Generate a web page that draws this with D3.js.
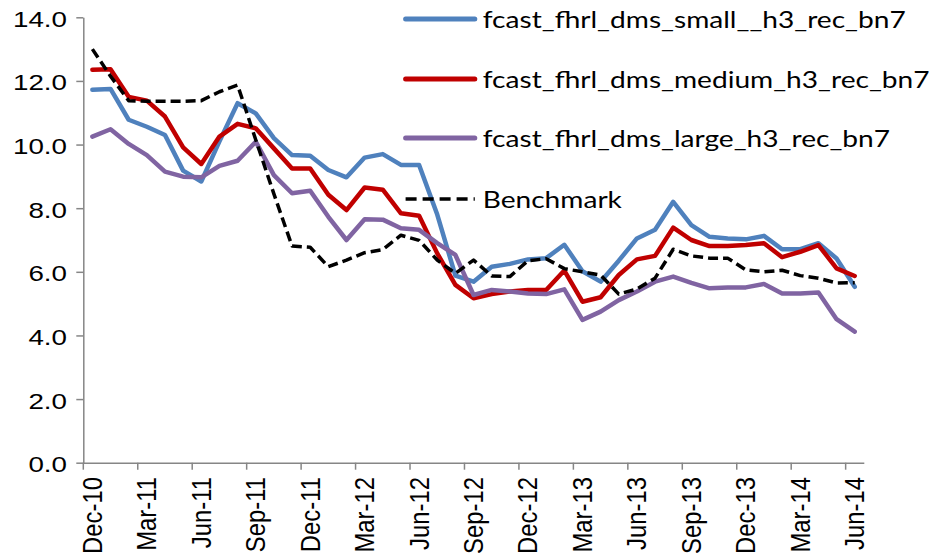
<!DOCTYPE html>
<html>
<head>
<meta charset="utf-8">
<script src="https://cdn.jsdelivr.net/npm/d3@7"></script>
<style>
  html, body { margin: 0; padding: 0; background: #ffffff; }
  svg { display: block; font-family: Lato, "Open Sans", sans-serif; }
</style>
</head>
<body>
<svg id="chart" width="931" height="560"></svg>
<script>
// Monthly forecast-error series, Dec-10 .. Jun-14
const months = [
  "Dec-10",
  "Jan-11","Feb-11","Mar-11","Apr-11","May-11","Jun-11","Jul-11","Aug-11","Sep-11","Oct-11","Nov-11","Dec-11",
  "Jan-12","Feb-12","Mar-12","Apr-12","May-12","Jun-12","Jul-12","Aug-12","Sep-12","Oct-12","Nov-12","Dec-12",
  "Jan-13","Feb-13","Mar-13","Apr-13","May-13","Jun-13","Jul-13","Aug-13","Sep-13","Oct-13","Nov-13","Dec-13",
  "Jan-14","Feb-14","Mar-14","Apr-14","May-14","Jun-14"
];

// labelled months (every third category)
const tickMonths = ["Dec-10","Mar-11","Jun-11","Sep-11","Dec-11","Mar-12","Jun-12","Sep-12",
                    "Dec-12","Mar-13","Jun-13","Sep-13","Dec-13","Mar-14","Jun-14"];

const yTicks = [0, 2, 4, 6, 8, 10, 12, 14];

const small = [11.72, 11.75, 10.78, 10.56, 10.30, 9.18, 8.84, 10.10, 11.30, 10.98,
               10.20, 9.67, 9.65, 9.20, 8.97, 9.59, 9.70, 9.36, 9.36, 7.80,
               5.88, 5.69, 6.16, 6.25, 6.39, 6.43, 6.85, 6.02, 5.69, 6.35,
               7.05, 7.32, 8.20, 7.47, 7.10, 7.05, 7.02, 7.13, 6.71, 6.71,
               6.90, 6.42, 5.53];

const medium = [12.35, 12.37, 11.50, 11.38, 10.88, 9.91, 9.39, 10.25, 10.65, 10.51,
                9.88, 9.25, 9.25, 8.42, 7.94, 8.65, 8.58, 7.84, 7.76, 6.58,
                5.59, 5.17, 5.30, 5.38, 5.43, 5.43, 6.04, 5.06, 5.20, 5.90,
                6.39, 6.50, 7.39, 7.00, 6.81, 6.81, 6.84, 6.90, 6.46, 6.63,
                6.84, 6.11, 5.87];

const large = [10.25, 10.48, 10.02, 9.67, 9.15, 8.99, 8.97, 9.33, 9.49, 10.09,
               9.04, 8.47, 8.55, 7.73, 7.00, 7.65, 7.64, 7.37, 7.32, 6.90,
               6.53, 5.27, 5.43, 5.38, 5.32, 5.30, 5.45, 4.49, 4.75, 5.11,
               5.38, 5.69, 5.85, 5.65, 5.48, 5.51, 5.51, 5.62, 5.32, 5.32,
               5.35, 4.51, 4.12];

const benchmark = [13.00, 12.15, 11.38, 11.36, 11.36, 11.36, 11.38, 11.66, 11.87, 10.15,
                   8.45, 6.81, 6.77, 6.16, 6.37, 6.60, 6.70, 7.15, 6.99, 6.37,
                   5.95, 6.37, 5.87, 5.85, 6.35, 6.41, 6.10, 6.00, 5.90, 5.30,
                   5.46, 5.80, 6.71, 6.50, 6.43, 6.43, 6.06, 6.00, 6.05, 5.88,
                   5.80, 5.65, 5.66];

const seriesNames = [
  "fcast_fhrl_dms_small__h3_rec_bn7",
  "fcast_fhrl_dms_medium_h3_rec_bn7",
  "fcast_fhrl_dms_large_h3_rec_bn7",
  "Benchmark"
];

const series = [
  { name: seriesNames[0], values: small,     color: "#4F81BD", width: 4.5, dash: null },
  { name: seriesNames[1], values: medium,    color: "#C00000", width: 4.5, dash: null },
  { name: seriesNames[2], values: large,     color: "#8064A2", width: 4.5, dash: null },
  { name: seriesNames[3], values: benchmark, color: "#000000", width: 3.5, dash: "10,5" }
];

// ---- layout ----
const plot = { left: 83.3, right: 863.8, top: 17.3, bottom: 462.7 };
const axisColor = "#868686";

const svg = d3.select("#chart");

const x = d3.scaleBand()
  .domain(months)
  .range([plot.left, plot.right])
  .paddingInner(0)
  .paddingOuter(0);

const y = d3.scaleLinear()
  .domain([0, 14])
  .range([plot.bottom, plot.top]);

const cx = m => x(m) + x.bandwidth() / 2;

// ---- y axis ----
const yAxisG = svg.append("g")
  .attr("transform", `translate(${plot.left},0)`)
  .call(d3.axisLeft(y)
    .tickValues(yTicks)
    .tickSize(7)
    .tickSizeOuter(0)
    .tickFormat(d3.format(".1f")));

yAxisG.select(".domain").attr("stroke", axisColor).attr("stroke-width", 1.5);
yAxisG.selectAll(".tick line").attr("stroke", axisColor).attr("stroke-width", 1.5);

const yText = yAxisG.selectAll(".tick text")
  .attr("fill", "#000")
  .style("font-size", "22.5px")
  .attr("dy", null)
  .attr("dominant-baseline", "central")
  .attr("text-anchor", "end");
const yRef = yText.filter(d => d === 14).node().getComputedTextLength();
const kY = 54 / yRef;
yText.attr("x", 0).attr("y", 1)
  .attr("transform", `translate(${67 - plot.left},0) scale(${kY},1)`);

// ---- x axis ----
const xAxisG = svg.append("g")
  .attr("transform", `translate(0,${plot.bottom})`)
  .call(d3.axisBottom(x)
    .tickValues(tickMonths)
    .tickSize(0)
    .tickSizeOuter(0));

xAxisG.select(".domain").attr("stroke", axisColor).attr("stroke-width", 1.5);

// tick marks sit on category boundaries
xAxisG.selectAll(".boundary")
  .data(tickMonths)
  .join("line")
  .attr("class", "boundary")
  .attr("x1", d => x(d)).attr("x2", d => x(d))
  .attr("y1", 0).attr("y2", 7)
  .attr("stroke", axisColor)
  .attr("stroke-width", 1.5);

const xText = xAxisG.selectAll(".tick text")
  .attr("fill", "#000")
  .style("font-size", "26px");
const xRef = xText.filter(d => d === "Dec-10").node().getComputedTextLength();
const xSize = 26 * 77 / xRef;
xText.style("font-size", xSize + "px")
  .attr("x", 0).attr("y", 0)
  .attr("dy", null)
  .attr("dominant-baseline", "central")
  .attr("text-anchor", "end")
  .attr("transform", `translate(0,${477 - plot.bottom}) rotate(-90) scale(1,1.12)`);

// ---- lines ----
const line = d3.line()
  .x((d, i) => cx(months[i]))
  .y(d => y(d));

svg.append("g")
  .selectAll("path")
  .data(series)
  .join("path")
  .attr("d", d => line(d.values))
  .attr("fill", "none")
  .attr("stroke", d => d.color)
  .attr("stroke-width", d => d.width)
  .attr("stroke-dasharray", d => d.dash)
  .attr("stroke-linejoin", "round")
  .attr("stroke-linecap", d => d.dash ? "butt" : "round");

// ---- legend ----
const legendRows = [19, 79, 138, 199];
const legend = svg.append("g");
const items = legend.selectAll("g")
  .data(series)
  .join("g")
  .attr("transform", (d, i) => `translate(0,${legendRows[i]})`);

items.append("line")
  .attr("x1", 405.6).attr("x2", 474.8)
  .attr("y1", 0).attr("y2", 0)
  .attr("stroke", d => d.color)
  .attr("stroke-width", d => d.dash ? 3.5 : 5)
  .attr("stroke-dasharray", d => d.dash ? "11,6" : null)
  .attr("stroke-linecap", d => d.dash ? "butt" : "round");

const legText = items.append("text")
  .text(d => d.name)
  .attr("fill", "#000")
  .style("font-size", "23.3px")
  .attr("dominant-baseline", "central");
const legRef = legText.filter(d => d.name === seriesNames[1]).node().getComputedTextLength();
const kL = 447 / legRef;
legText.attr("transform", `translate(482.7,0) scale(${kL},1)`);
</script>
</body>
</html>
